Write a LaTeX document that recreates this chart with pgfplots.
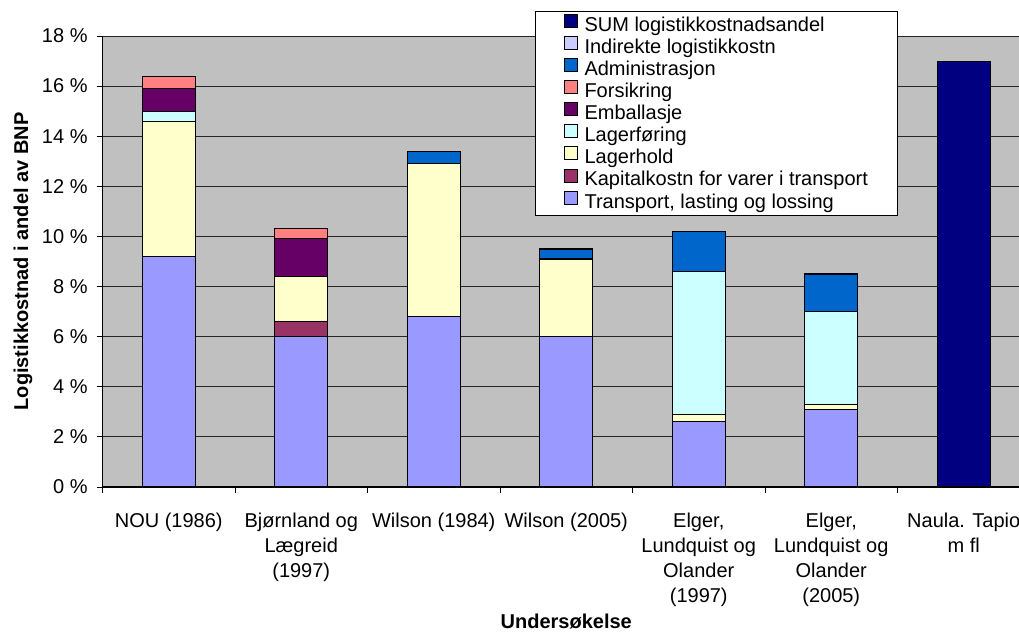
\documentclass[border=0pt]{standalone}
\usepackage{fontspec}
\setmainfont{Liberation Sans}
\usepackage{pgfplots}
\usepackage{pgfplotstable}
\pgfplotsset{compat=1.18}
\definecolor{cTransport}{HTML}{9999FF}
\definecolor{cKapital}{HTML}{993366}
\definecolor{cLagerhold}{HTML}{FFFFCC}
\definecolor{cLagerforing}{HTML}{CCFFFF}
\definecolor{cEmballasje}{HTML}{660066}
\definecolor{cForsikring}{HTML}{FF8080}
\definecolor{cAdmin}{HTML}{0066CC}
\definecolor{cIndirekte}{HTML}{CCCCFF}
\definecolor{cSum}{HTML}{000080}
\definecolor{plotbg}{HTML}{C0C0C0}
\pgfplotstableread{
x Transport Kapital Lagerhold Lagerforing Emballasje Forsikring Admin Indirekte Sum
0 9.2 0   5.4 0.4 0.9 0.5 0   0 0
1 6.0 0.6 1.8 0   1.5 0.4 0   0 0
2 6.8 0   6.1 0   0   0   0.5 0 0
3 6.0 0   3.1 0   0   0   0.4 0 0
4 2.6 0   0.3 5.7 0   0   1.6 0 0
5 3.1 0   0.2 3.7 0   0   1.5 0 0
6 0   0   0   0   0   0   0   0 17.0
}\datatable
\begin{document}
\begin{tikzpicture}
\begin{axis}[
  at={(76.875pt,109.5pt)}, anchor=south west,
  scale only axis, width=695.625pt, height=338.25pt,
  xmin=-0.5, xmax=6.5, ymin=0, ymax=18,
  ybar stacked, bar width=0.4,
  axis background/.style={fill=plotbg},
  axis lines=left, axis line style={-, black, line width=0.8pt},
  ymajorgrids, grid style={black!85, line width=0.6pt},
  ytick={0,2,...,18},
  yticklabels={0 \%,2 \%,4 \%,6 \%,8 \%,10 \%,12 \%,14 \%,16 \%,18 \%},
  xtick={0,...,6},
  xticklabels={{NOU (1986)},{Bjørnland og\\Lægreid\\(1997)},{Wilson (1984)},{Wilson (2005)},{Elger,\\Lundquist og\\Olander\\(1997)},{Elger,\\Lundquist og\\Olander\\(2005)},{Naula. Tapio\\m fl}},
  minor xtick={-0.5,0.5,...,6.5},
  major x tick style={draw=none},
  tick align=outside, major tick length=4.5pt, minor tick length=4.5pt,
  tick style={black, line width=0.6pt},
  yticklabel style={inner sep=0pt, xshift=-6.5pt, font=\fontsize{15pt}{18pt}\selectfont},
  xticklabel style={inner sep=0pt, yshift=-15pt, align=center, font=\fontsize{15pt}{18.6pt}\selectfont},
  xlabel={Undersøkelse},
  xlabel style={font=\bfseries\fontsize{15pt}{18pt}\selectfont, at={(axis description cs:0.5,-0.3148)}, anchor=base, inner sep=0pt},
  ylabel={Logistikkostnad i andel av BNP},
  ylabel style={font=\bfseries\fontsize{15pt}{18pt}\selectfont, at={(axis description cs:-0.0803,0.5)}, anchor=base, inner sep=0pt},
  every axis plot/.append style={draw=black, line width=0.8pt},
  legend image code/.code={\draw[#1,draw=black,line width=0.6pt] (0pt,-0.5pt) rectangle (9.75pt,9.25pt);},
  reverse legend,
  legend cell align=left,
  legend style={at={(0.4663,1.0554)}, anchor=north west, draw=black, line width=0.6pt, fill=white,
    font=\fontsize{15pt}{16pt}\selectfont, inner xsep=21.5pt, inner ysep=2pt, row sep=0pt,
    nodes={inner sep=0.5pt, text height=10pt, text depth=3pt},
    /tikz/every odd column/.append style={column sep=4.5pt}},
]
\addplot[fill=cTransport] table[x=x,y=Transport]{\datatable};
\addplot[fill=cKapital] table[x=x,y=Kapital]{\datatable};
\addplot[fill=cLagerhold] table[x=x,y=Lagerhold]{\datatable};
\addplot[fill=cLagerforing] table[x=x,y=Lagerforing]{\datatable};
\addplot[fill=cEmballasje] table[x=x,y=Emballasje]{\datatable};
\addplot[fill=cForsikring] table[x=x,y=Forsikring]{\datatable};
\addplot[fill=cAdmin] table[x=x,y=Admin]{\datatable};
\addplot[fill=cIndirekte] table[x=x,y=Indirekte]{\datatable};
\addplot[fill=cSum] table[x=x,y=Sum]{\datatable};
\legend{{Transport, lasting og lossing},Kapitalkostn for varer i transport,Lagerhold,Lagerføring,Emballasje,Forsikring,Administrasjon,Indirekte logistikkostn,SUM logistikkostnadsandel}
\end{axis}
\pgfresetboundingbox
\useasboundingbox (0,0) rectangle (764.25pt,474.75pt);
\end{tikzpicture}
\end{document}
